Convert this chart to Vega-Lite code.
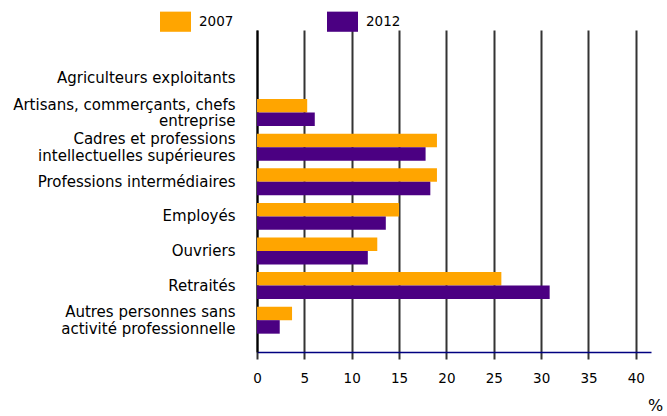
{
  "$schema": "https://vega.github.io/schema/vega-lite/v6.json",
  "autosize": {"type": "none"},
  "padding": {"left": 257, "top": 30, "right": 16, "bottom": 64},
  "width": 394,
  "height": 322,
  "background": "white",
  "config": {
    "view": {"stroke": null},
    "font": "DejaVu Sans"
  },
  "data": {
    "values": [
      {"categorie": "Agriculteurs exploitants", "annee": "2007", "part": 0},
      {"categorie": "Agriculteurs exploitants", "annee": "2012", "part": 0},
      {"categorie": "Artisans, commerçants, chefs|entreprise", "annee": "2007", "part": 5.3},
      {"categorie": "Artisans, commerçants, chefs|entreprise", "annee": "2012", "part": 6.1},
      {"categorie": "Cadres et professions|intellectuelles supérieures", "annee": "2007", "part": 19.0},
      {"categorie": "Cadres et professions|intellectuelles supérieures", "annee": "2012", "part": 17.8},
      {"categorie": "Professions intermédiaires", "annee": "2007", "part": 19.0},
      {"categorie": "Professions intermédiaires", "annee": "2012", "part": 18.3},
      {"categorie": "Employés", "annee": "2007", "part": 15.0},
      {"categorie": "Employés", "annee": "2012", "part": 13.6},
      {"categorie": "Ouvriers", "annee": "2007", "part": 12.7},
      {"categorie": "Ouvriers", "annee": "2012", "part": 11.7},
      {"categorie": "Retraités", "annee": "2007", "part": 25.8},
      {"categorie": "Retraités", "annee": "2012", "part": 30.9},
      {"categorie": "Autres personnes sans|activité professionnelle", "annee": "2007", "part": 3.7},
      {"categorie": "Autres personnes sans|activité professionnelle", "annee": "2012", "part": 2.4}
    ]
  },
  "mark": {"type": "bar"},
  "encoding": {
    "y": {
      "field": "categorie",
      "type": "nominal",
      "sort": null,
      "scale": {"paddingInner": 0.22, "paddingOuter": 0.763, "align": 0.653},
      "axis": {
        "title": null,
        "ticks": false,
        "labelPadding": 22,
        "labelFontSize": 15,
        "labelColor": "#000000",
        "labelLineHeight": 16.5,
        "labelLimit": 300,
        "labelExpr": "split(datum.value, '|')",
        "labelOffset": {"condition": {"test": "indexof(datum.value, '|') >= 0", "value": -8}, "value": 0},
        "domainColor": "#000000",
        "domainWidth": 2
      }
    },
    "yOffset": {"field": "annee", "type": "nominal", "sort": ["2007", "2012"]},
    "x": {
      "field": "part",
      "type": "quantitative",
      "scale": {"domain": [0, 41.6], "nice": false, "zero": true},
      "axis": {
        "title": "%",
        "titleX": 398,
        "titleY": 53,
        "titleAlign": "center",
        "titleBaseline": "middle",
        "titleFontSize": 16,
        "titleFontWeight": "normal",
        "titleColor": "#000000",
        "values": [0, 5, 10, 15, 20, 25, 30, 35, 40],
        "grid": true,
        "gridColor": "#333333",
        "gridWidth": 2,
        "gridOpacity": 1,
        "tickColor": "#333333",
        "tickWidth": 2,
        "tickSize": 7,
        "labelFontSize": 13.5,
        "labelColor": "#000000",
        "labelPadding": 12,
        "labelFlush": false,
        "domainColor": "#000080",
        "domainWidth": 1.5
      }
    },
    "color": {
      "field": "annee",
      "type": "nominal",
      "scale": {"domain": ["2007", "2012"], "range": ["#FFA500", "#4B0082"]},
      "legend": {
        "title": null,
        "orient": "none",
        "direction": "horizontal",
        "legendX": -97,
        "legendY": -24,
        "symbolType": "M-1,-0.65L1,-0.65L1,0.65L-1,0.65Z",
        "symbolSize": 961,
        "symbolStrokeWidth": 0,
        "symbolOpacity": 1,
        "labelFontSize": 13.5,
        "labelColor": "#000000",
        "labelOffset": 8,
        "columnPadding": 93
      }
    }
  }
}
